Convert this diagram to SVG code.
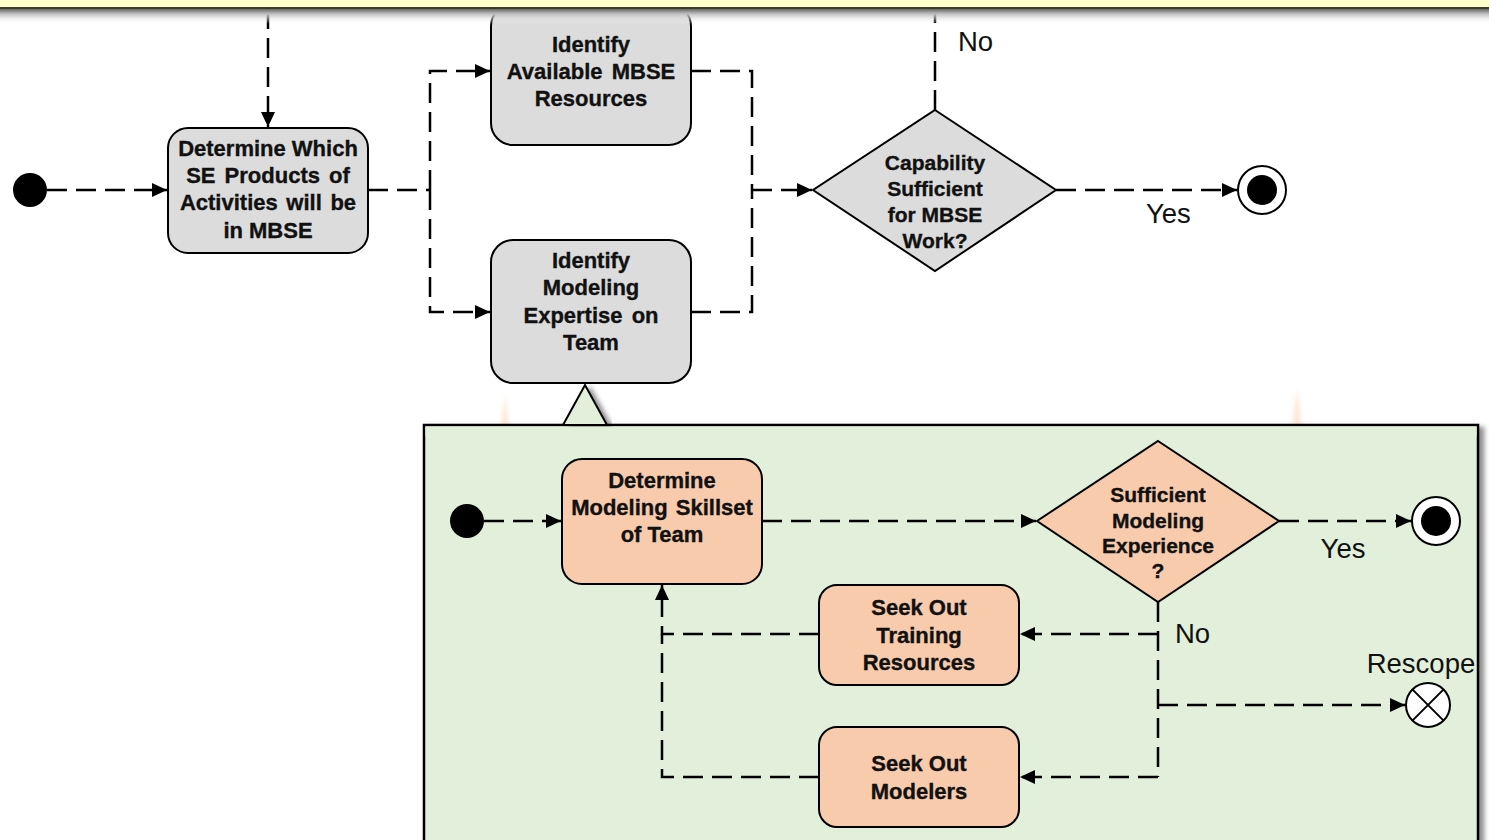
<svg xmlns="http://www.w3.org/2000/svg" width="1489" height="840" viewBox="0 0 1489 840">
  <style>
    .act { stroke: #000; stroke-width: 2; }
    .gray { fill: #DCDCDC; }
    .peach { fill: #F8CBAD; }
    .lbl { font-family: "Liberation Sans", Arial, sans-serif; font-weight: bold; font-size: 22px; fill: #111; stroke: #111; stroke-width: 0.35; text-anchor: middle; }
    .dec { font-size: 21px; }
    .guard { font-family: "Liberation Sans", Arial, sans-serif; font-size: 27.5px; fill: #111; }
    .flow { fill: none; stroke: #000; stroke-width: 2.5; stroke-dasharray: 20 9; }
    .start { fill: #000; }
  </style>
  <defs>
    <marker id="arrow" markerUnits="userSpaceOnUse" markerWidth="16" markerHeight="14" refX="15" refY="7" orient="auto">
      <path d="M0,0 L15,7 L0,14 z" fill="#000"/>
    </marker>
    <linearGradient id="bandShade" x1="0" y1="0" x2="0" y2="1">
      <stop offset="0" stop-color="#555"/>
      <stop offset="0.35" stop-color="#bbb"/>
      <stop offset="1" stop-color="#fff" stop-opacity="0"/>
    </linearGradient>
    <filter id="shadow" x="-5%" y="-5%" width="115%" height="115%">
      <feDropShadow dx="5" dy="3" stdDeviation="2.5" flood-color="#000" flood-opacity="0.45"/>
    </filter>
    <filter id="glow" x="-100%" y="-20%" width="300%" height="140%">
      <feGaussianBlur stdDeviation="2"/>
    </filter>
  </defs>

  <rect width="1489" height="840" fill="#fff"/>

  <!-- faint decorations above the sub-activity frame -->
  <polygon points="505,395 509,425 501,425" fill="#FBD9BC" opacity="0.6" filter="url(#glow)"/>
  <polygon points="1297,388 1302,425 1292,425" fill="#FBD9BC" opacity="0.6" filter="url(#glow)"/>

  <!-- sub-activity frame for "Identify Modeling Expertise on Team" -->
  <g id="frame">
    <rect x="424" y="425" width="1054" height="430" fill="#E2EFDA" stroke="#000" stroke-width="2.5" filter="url(#shadow)"/>
    <polygon points="585,385 607,425 563,425" fill="#E2EFDA" stroke="#000" stroke-width="2" filter="url(#shadow)"/>
    <rect x="425.5" y="426.5" width="1051" height="10" fill="#E2EFDA"/>
  </g>

  <!-- connectors -->
  <g id="connectors">
    <path class="flow" d="M47,190 H167" marker-end="url(#arrow)"/>
    <path class="flow" d="M268,9 V127" marker-end="url(#arrow)"/>
    <path class="flow" d="M368,190 H430"/>
    <path class="flow" d="M430,190 V71 H490" marker-end="url(#arrow)"/>
    <path class="flow" d="M430,190 V312 H490" marker-end="url(#arrow)"/>
    <path class="flow" d="M691,71 H752 V190"/>
    <path class="flow" d="M691,312 H752 V190"/>
    <path class="flow" d="M752,190 H812" marker-end="url(#arrow)"/>
    <path class="flow" d="M935,110 V9"/>
    <path class="flow" d="M1056,190 H1237" marker-end="url(#arrow)"/>

    <path class="flow" d="M484,521 H561" marker-end="url(#arrow)"/>
    <path class="flow" d="M762,521 H1036" marker-end="url(#arrow)"/>
    <path class="flow" d="M1279,521 H1411" marker-end="url(#arrow)"/>
    <path class="flow" d="M1158,602 V777"/>
    <path class="flow" d="M1158,634 H1020" marker-end="url(#arrow)"/>
    <path class="flow" d="M1158,705 H1405" marker-end="url(#arrow)"/>
    <path class="flow" d="M1158,777 H1020" marker-end="url(#arrow)"/>
    <path class="flow" d="M819,634 H662 V585" marker-end="url(#arrow)"/>
    <path class="flow" d="M819,777 H662 V634"/>
  </g>

  <!-- top-level activity -->
  <g id="start-top">
    <circle class="start" cx="30" cy="190" r="17"/>
  </g>

  <g id="determine-products">
    <rect class="act gray" x="168" y="128" width="200" height="125" rx="20"/>
    <text class="lbl" x="268" y="155.5">Determine Which</text>
    <text class="lbl" x="268" y="182.5" word-spacing="3">SE Products of</text>
    <text class="lbl" x="268" y="209.5" word-spacing="2.5">Activities will be</text>
    <text class="lbl" x="268" y="237.5">in MBSE</text>
  </g>

  <g id="identify-resources">
    <rect class="act gray" x="491" y="4" width="200" height="141" rx="22"/>
    <text class="lbl" x="591" y="51.5">Identify</text>
    <text class="lbl" x="591" y="78.5" word-spacing="3">Available MBSE</text>
    <text class="lbl" x="591" y="105.5">Resources</text>
  </g>

  <g id="identify-expertise">
    <rect class="act gray" x="491" y="240" width="200" height="143" rx="22"/>
    <text class="lbl" x="591" y="267.5">Identify</text>
    <text class="lbl" x="591" y="295">Modeling</text>
    <text class="lbl" x="591" y="322.5" word-spacing="3">Expertise on</text>
    <text class="lbl" x="591" y="349.5">Team</text>
  </g>

  <g id="capability-decision">
    <polygon class="act gray" points="935,110 1056,190 935,271 813,190"/>
    <text class="lbl dec" x="935" y="169.5">Capability</text>
    <text class="lbl dec" x="935" y="195.5">Sufficient</text>
    <text class="lbl dec" x="935" y="221.5">for MBSE</text>
    <text class="lbl dec" x="935" y="247.5">Work?</text>
  </g>

  <g id="end-top">
    <circle cx="1262" cy="190" r="24" fill="#fff" stroke="#000" stroke-width="2"/>
    <circle cx="1262" cy="190" r="15" fill="#000"/>
  </g>

  <g id="guards-top">
    <text class="guard" x="958" y="51">No</text>
    <text class="guard" x="1146" y="223">Yes</text>
  </g>

  <!-- sub-activity -->
  <g id="start-sub">
    <circle class="start" cx="467" cy="521" r="17"/>
  </g>

  <g id="determine-skillset">
    <rect class="act peach" x="562" y="459" width="200" height="125" rx="20"/>
    <text class="lbl" x="662" y="487.5">Determine</text>
    <text class="lbl" x="662" y="514.5" word-spacing="2">Modeling Skillset</text>
    <text class="lbl" x="662" y="541.5">of Team</text>
  </g>

  <g id="experience-decision">
    <polygon class="act peach" points="1158,441 1279,521 1158,602 1037,521"/>
    <text class="lbl dec" x="1158" y="501.5">Sufficient</text>
    <text class="lbl dec" x="1158" y="527.5">Modeling</text>
    <text class="lbl dec" x="1158" y="552.5">Experience</text>
    <text class="lbl dec" x="1158" y="577.5">?</text>
  </g>

  <g id="end-sub">
    <circle cx="1436" cy="521" r="24" fill="#fff" stroke="#000" stroke-width="2"/>
    <circle cx="1436" cy="521" r="15" fill="#000"/>
  </g>

  <g id="seek-training">
    <rect class="act peach" x="819" y="585" width="200" height="100" rx="18"/>
    <text class="lbl" x="919" y="614.5">Seek Out</text>
    <text class="lbl" x="919" y="642.5">Training</text>
    <text class="lbl" x="919" y="669.5">Resources</text>
  </g>

  <g id="seek-modelers">
    <rect class="act peach" x="819" y="727" width="200" height="100" rx="18"/>
    <text class="lbl" x="919" y="770.5">Seek Out</text>
    <text class="lbl" x="919" y="798.5">Modelers</text>
  </g>

  <g id="rescope">
    <circle cx="1428" cy="705" r="22" fill="#fff" stroke="#000" stroke-width="2"/>
    <path d="M1412.4,689.4 L1443.6,720.6 M1443.6,689.4 L1412.4,720.6" stroke="#000" stroke-width="2"/>
    <text class="guard" x="1421" y="673" text-anchor="middle">Rescope</text>
  </g>

  <g id="guards-sub">
    <text class="guard" x="1343" y="558" text-anchor="middle">Yes</text>
    <text class="guard" x="1175" y="643">No</text>
  </g>

  <!-- header strip across the top -->
  <g id="header">
    <rect x="0" y="8" width="1489" height="16" fill="url(#bandShade)"/>
    <rect x="0" y="0" width="1489" height="7" fill="#FFFFCC"/>
    <rect x="0" y="7" width="1489" height="2" fill="#3a3a2a"/>
  </g>
</svg>
